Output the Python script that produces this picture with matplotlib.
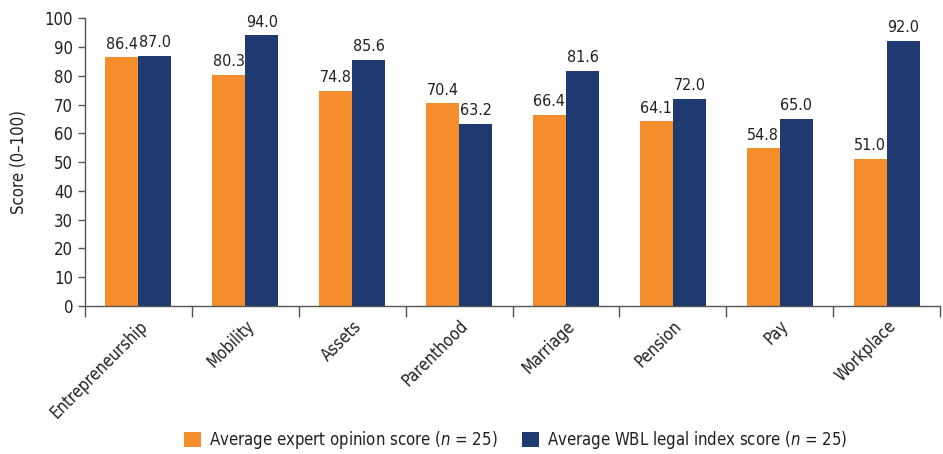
import matplotlib
matplotlib.use("Agg")
import matplotlib.pyplot as plt
import numpy as np

plt.rcParams['font.family'] = ['DejaVu Sans']
plt.rcParams['font.stretch'] = 'condensed'

categories = ["Entrepreneurship", "Mobility", "Assets", "Parenthood", "Marriage", "Pension", "Pay", "Workplace"]
expert = [86.4, 80.3, 74.8, 70.4, 66.4, 64.1, 54.8, 51.0]
wbl = [87.0, 94.0, 85.6, 63.2, 81.6, 72.0, 65.0, 92.0]
yticks = list(range(0, 101, 10))

orange = "#F58D2C"
navy = "#1F3A70"
txt = "#231F20"
fs = 12

fig = plt.figure(figsize=(9.43, 4.54), dpi=100)
ax = fig.add_axes([0.090, 0.326, 0.907, 0.634])

x = np.arange(len(categories))
w = 0.31
b1 = ax.bar(x - w/2, expert, w, color=orange, label="Average expert opinion score ($n$ = 25)")
b2 = ax.bar(x + w/2, wbl, w, color=navy, label="Average WBL legal index score ($n$ = 25)")

for bars, vals in ((b1, expert), (b2, wbl)):
    for r, v in zip(bars, vals):
        ax.text(r.get_x() + r.get_width()/2, v + 2, f"{v:.1f}", ha="center", va="bottom",
                fontsize=11.5, color=txt)

ax.set_xlim(-0.5, len(categories) - 0.5)
ax.set_ylim(0, 100)
ax.set_yticks(yticks)
ax.tick_params(axis="y", labelsize=fs, colors="#555555", labelcolor=txt, length=5, width=1)
ax.set_xticks(np.arange(len(categories) + 1) - 0.5)
ax.set_xticklabels([])
ax.set_xticks(x, minor=True)
ax.set_xticklabels(categories, minor=True, rotation=45, ha="right", rotation_mode="anchor",
                   fontsize=fs, color=txt)
ax.tick_params(axis="x", which="major", length=8, width=1, colors="#555555")
ax.tick_params(axis="x", which="minor", length=0, pad=8)
for s in ("top", "right"):
    ax.spines[s].set_visible(False)
for s in ("left", "bottom"):
    ax.spines[s].set_color("#555555")
    ax.spines[s].set_linewidth(1)
ax.set_ylabel("Score (0\u2013100)", fontsize=fs, color=txt, labelpad=12)

fig.legend(handles=[b1, b2], loc="center", bbox_to_anchor=(0.547, 0.03), ncol=2, frameon=False,
           fontsize=fs, handlelength=1.0, handleheight=1.0, columnspacing=1.5, handletextpad=0.5,
           labelcolor=txt)

fig.savefig("out.png", dpi=100)
